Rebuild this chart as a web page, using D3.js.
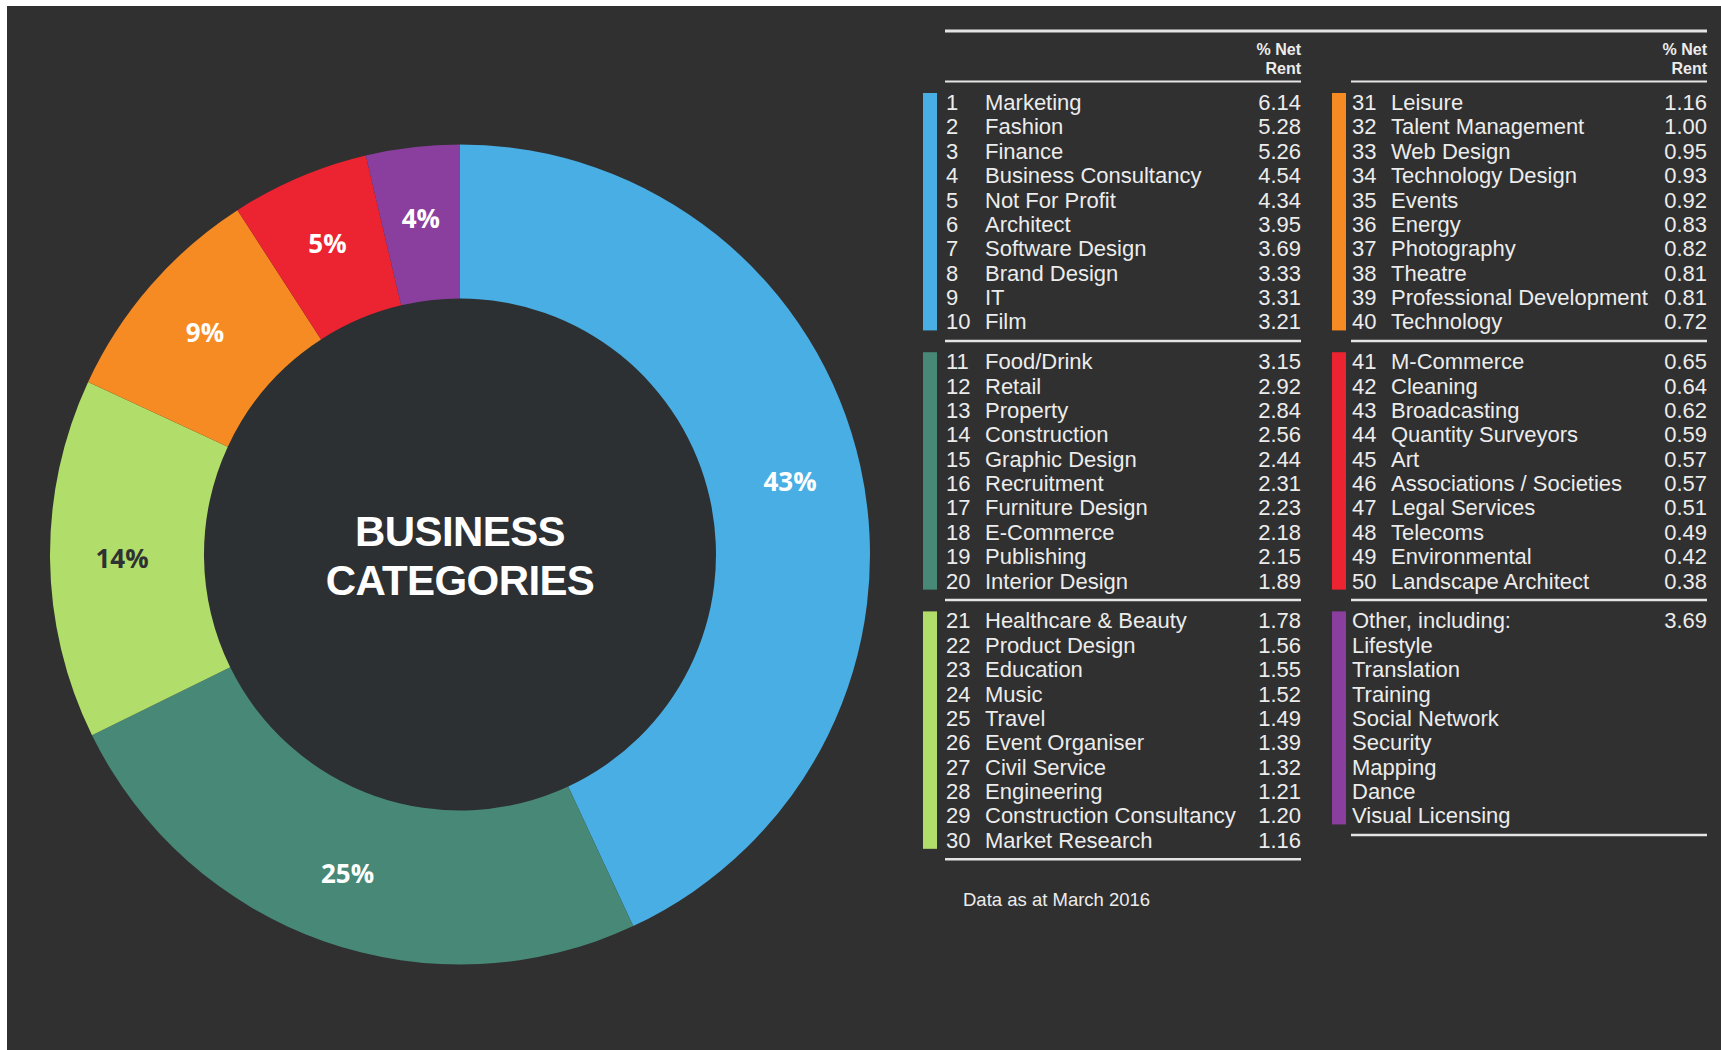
<!DOCTYPE html>
<html>
<head>
<meta charset="utf-8">
<script src="https://cdn.jsdelivr.net/npm/d3@7"></script>
<style>
  html, body { margin: 0; padding: 0; background: #ffffff; }
  svg { display: block; }
</style>
</head>
<body>
<svg id="chart" width="1721" height="1050"></svg>
<script>
// Business categories ranked by share of net rent (%)
const categories = [
  "Marketing", "Fashion", "Finance", "Business Consultancy", "Not For Profit",
  "Architect", "Software Design", "Brand Design", "IT", "Film",
  "Food/Drink", "Retail", "Property", "Construction", "Graphic Design",
  "Recruitment", "Furniture Design", "E-Commerce", "Publishing", "Interior Design",
  "Healthcare & Beauty", "Product Design", "Education", "Music", "Travel",
  "Event Organiser", "Civil Service", "Engineering", "Construction Consultancy", "Market Research",
  "Leisure", "Talent Management", "Web Design", "Technology Design", "Events",
  "Energy", "Photography", "Theatre", "Professional Development", "Technology",
  "M-Commerce", "Cleaning", "Broadcasting", "Quantity Surveyors", "Art",
  "Associations / Societies", "Legal Services", "Telecoms", "Environmental", "Landscape Architect"
];
const netRent = [
  6.14, 5.28, 5.26, 4.54, 4.34, 3.95, 3.69, 3.33, 3.31, 3.21,
  3.15, 2.92, 2.84, 2.56, 2.44, 2.31, 2.23, 2.18, 2.15, 1.89,
  1.78, 1.56, 1.55, 1.52, 1.49, 1.39, 1.32, 1.21, 1.20, 1.16,
  1.16, 1.00, 0.95, 0.93, 0.92, 0.83, 0.82, 0.81, 0.81, 0.72,
  0.65, 0.64, 0.62, 0.59, 0.57, 0.57, 0.51, 0.49, 0.42, 0.38
];
const otherLabel = "Other, including:";
const otherItems = ["Lifestyle", "Translation", "Training", "Social Network", "Security", "Mapping", "Dance", "Visual Licensing"];
const otherNetRent = 3.69;
const groupColors = ["#48aee3", "#478877", "#b1dd6a", "#f68b23", "#ec2330", "#8a3f9e"];
const labelColors = ["#ffffff", "#ffffff", "#2f3133", "#ffffff", "#ffffff", "#ffffff"];
const headerText = ["% Net", "Rent"];
const titleLines = ["BUSINESS", "CATEGORIES"];
const footnote = "Data as at March 2016";

// ---- build groups of ten ranks, plus the "other" bucket ----
const groupSize = 10;
const groups = d3.range(categories.length / groupSize).map(g => {
  const rows = categories.slice(g * groupSize, (g + 1) * groupSize).map((name, i) => ({
    rank: g * groupSize + i + 1, name, value: netRent[g * groupSize + i]
  }));
  return { color: groupColors[g], labelColor: labelColors[g], rows, total: d3.sum(rows, r => r.value), other: false };
});
groups.push({
  color: groupColors[5], labelColor: labelColors[5], other: true, total: otherNetRent,
  rows: [{ rank: "", name: otherLabel, value: otherNetRent }].concat(otherItems.map(n => ({ rank: "", name: n, value: null })))
});

const W = 1721, H = 1050;
const svg = d3.select("#chart");

// panel background
svg.append("rect").attr("x", 7).attr("y", 6).attr("width", W - 7).attr("height", H - 6).attr("fill", "#303030");

// ---- donut ----
const cx = 460, cy = 554.5, rOuter = 410, rInner = 256;
const donut = svg.append("g").attr("transform", `translate(${cx},${cy})`);
const pie = d3.pie().sort(null).value(d => d.total);
const arc = d3.arc().innerRadius(rInner).outerRadius(rOuter);
const labelArc = d3.arc().innerRadius(338).outerRadius(338);
const arcs = pie(groups);

donut.append("circle").attr("r", rInner).attr("fill", "#2d3033");
donut.selectAll("path.slice").data(arcs).join("path")
  .attr("class", "slice")
  .attr("d", arc)
  .attr("fill", d => d.data.color);

const pct = d3.format(".0%");
donut.selectAll("text.pct").data(arcs).join("text")
  .attr("class", "pct")
  .attr("transform", d => `translate(${labelArc.centroid(d)})`)
  .attr("text-anchor", "middle")
  .attr("dy", "0.36em")
  .attr("font-family", "'Open Sans', 'DejaVu Sans', sans-serif")
  .attr("font-weight", 700)
  .attr("font-size", 26)
  .attr("fill", d => d.data.labelColor)
  .text(d => pct(d.data.total / 100));

donut.selectAll("text.title").data(titleLines).join("text")
  .attr("class", "title")
  .attr("x", 0)
  .attr("y", (d, i) => -8.5 + i * 49)
  .attr("text-anchor", "middle")
  .attr("font-family", "'Liberation Sans', Arial, sans-serif")
  .attr("font-weight", 700)
  .attr("font-size", 42)
  .attr("letter-spacing", -0.6)
  .attr("fill", "#ffffff")
  .text(d => d);

// ---- ranking table ----
const textCol = "#ececec", ruleCol = "#e4e4e4";
const font = "'Liberation Sans', Arial, sans-serif";
const columns = [
  { bar: 923, num: 946, name: 985, val: 1301, x0: 945, x1: 1301, groups: groups.slice(0, 3) },
  { bar: 1332, num: 1352, name: 1391, val: 1707, x0: 1351, x1: 1707, groups: groups.slice(3, 6) }
];
const rowStep = 24.38, groupStride = 259.2, firstBaseline = 110;
const baseline = (g, i) => firstBaseline + g * groupStride + i * rowStep;
const fmt = d3.format(".2f");

const table = svg.append("g");

// top rule across both columns
table.append("line")
  .attr("x1", columns[0].x0).attr("x2", columns[1].x1)
  .attr("y1", 31).attr("y2", 31)
  .attr("stroke", ruleCol).attr("stroke-width", 3);

columns.forEach(col => {
  const c = table.append("g");
  c.selectAll("text.hdr").data(headerText).join("text")
    .attr("class", "hdr")
    .attr("x", col.val).attr("y", (d, i) => 55 + i * 19)
    .attr("text-anchor", "end")
    .attr("font-family", font).attr("font-weight", 700).attr("font-size", 16)
    .attr("fill", textCol)
    .text(d => d);
  c.append("line")
    .attr("x1", col.x0).attr("x2", col.x1).attr("y1", 81.5).attr("y2", 81.5)
    .attr("stroke", ruleCol).attr("stroke-width", 2);

  col.groups.forEach((grp, g) => {
    const n = grp.rows.length;
    const gg = c.append("g");
    gg.append("rect")
      .attr("x", col.bar).attr("width", 14)
      .attr("y", baseline(g, 0) - 17)
      .attr("height", baseline(g, n - 1) + 1 - (baseline(g, 0) - 17))
      .attr("fill", grp.color);

    const rows = gg.selectAll("g.row").data(grp.rows).join("g")
      .attr("class", "row")
      .attr("transform", (d, i) => `translate(0,${baseline(g, i)})`)
      .attr("font-family", font).attr("font-size", 22).attr("fill", textCol);

    if (!grp.other) {
      rows.append("text").attr("x", col.num).text(d => d.rank);
      rows.append("text").attr("x", col.name).text(d => d.name);
    } else {
      rows.append("text").attr("x", col.num).text(d => d.name);
    }
    rows.filter(d => d.value !== null).append("text")
      .attr("x", col.val).attr("text-anchor", "end")
      .text(d => fmt(d.value));

    gg.append("line")
      .attr("x1", col.x0).attr("x2", col.x1)
      .attr("y1", baseline(g, n - 1) + 11.5).attr("y2", baseline(g, n - 1) + 11.5)
      .attr("stroke", ruleCol).attr("stroke-width", 2.5);
  });
});

table.append("text")
  .attr("x", 963).attr("y", 906)
  .attr("font-family", font).attr("font-size", 18.5).attr("fill", textCol)
  .text(footnote);
</script>
</body>
</html>
